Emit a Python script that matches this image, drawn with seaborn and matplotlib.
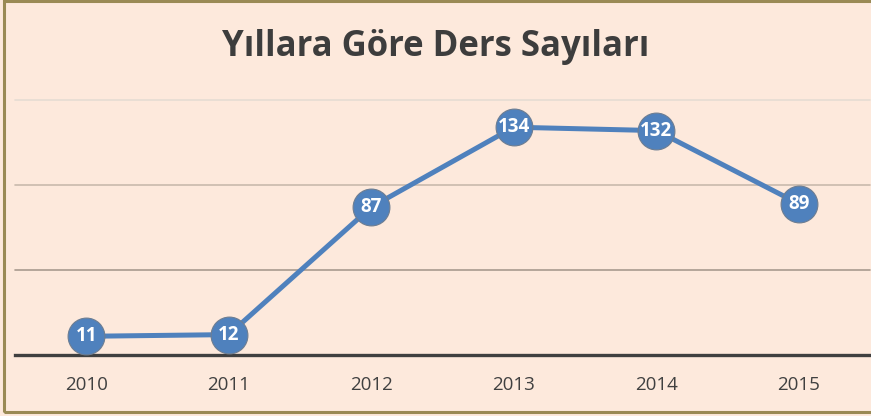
import matplotlib
matplotlib.use("Agg")
import matplotlib.pyplot as plt
import seaborn as sns
import pandas as pd
from matplotlib.patches import Rectangle

years = ["2010", "2011", "2012", "2013", "2014", "2015"]
counts = [11, 12, 87, 134, 132, 89]
title = "Yıllara Göre Ders Sayıları"

sns.set_theme(style="white")
plt.rcParams['font.family'] = ['Open Sans', 'DejaVu Sans']

bg = "#fde9dc"
blue = "#4f81bd"

fig = plt.figure(figsize=(8.71, 4.16), dpi=100, facecolor=bg)
ax = fig.add_axes([15/871, 61/416, 855/871, 255/416])
ax.set_facecolor(bg)

df = pd.DataFrame({"Yıl": years, "Ders": counts})
sns.lineplot(data=df, x="Yıl", y="Ders", ax=ax, color=blue, linewidth=3.6,
             marker="o", markersize=26.5, markeredgecolor="#6c7d92",
             markeredgewidth=0.8, markerfacecolor=blue, sort=False, zorder=3)

for i, v in enumerate(counts):
    ax.text(i, v, str(v), ha="center", va="center", color="white",
            fontsize=13.5, fontweight="bold", zorder=4)

ax.set_xlim(-0.5, 5.5)
ax.set_ylim(0, 150)
ax.set_yticks([])
ax.set_xlabel("")
ax.set_ylabel("")
for s in ["top", "left", "right"]:
    ax.spines[s].set_visible(False)
ax.spines["bottom"].set_color("#404040")
ax.spines["bottom"].set_linewidth(2.4)
ax.spines["bottom"].set_zorder(2)

grid_colors = {50: "#a89a8e", 100: "#c9b9ad", 150: "#e6dcd3"}
for y, c in grid_colors.items():
    ax.axhline(y, color=c, linewidth=1.2, zorder=1, clip_on=False)

ax.tick_params(axis="x", length=0, pad=15, labelsize=13.5, labelcolor="#404040")

fig.text(0.5, 0.887, title, ha="center", va="center", fontsize=25,
         fontweight="bold", color="#3d3d3d")

fig.patches.append(Rectangle((4/871, 4/416), 1.0, 1 - 4/416 - 1/416,
                             transform=fig.transFigure, fill=False,
                             edgecolor="#9a8a55", linewidth=2.2))

fig.savefig("out.png", dpi=100, facecolor=bg)
